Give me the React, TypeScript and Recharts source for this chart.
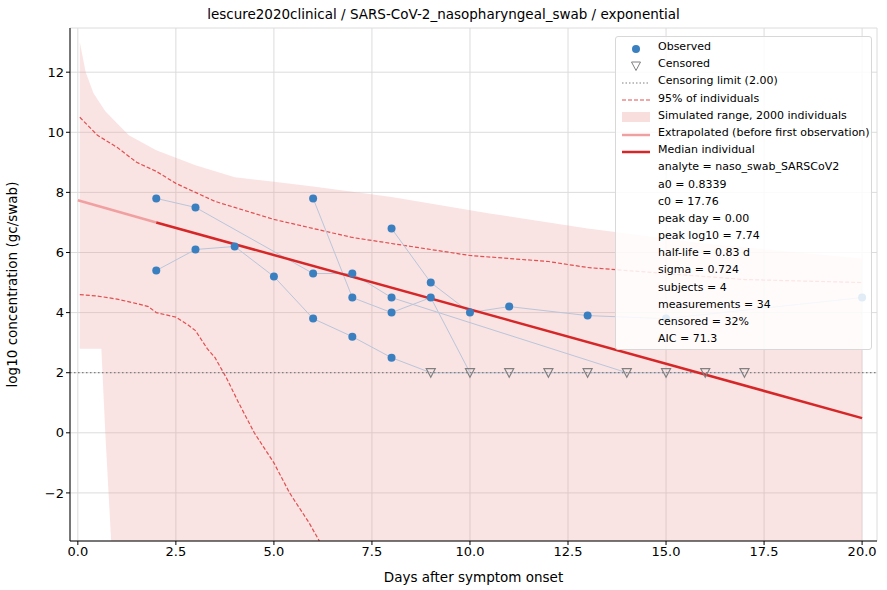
import React from "react";
import {
  ComposedChart, Area, Line, Scatter, XAxis, YAxis, CartesianGrid, ReferenceLine, Label,
} from "recharts";

// subject trajectories (day, log10 value); y=2 points are censored
const subjectA = [
  { x: 2, y: 7.8 }, { x: 3, y: 7.5 }, { x: 6, y: 5.3 }, { x: 7, y: 5.3 }, { x: 8, y: 4.5 }, { x: 14, y: 2 },
];
const subjectB = [
  { x: 2, y: 5.4 }, { x: 3, y: 6.1 }, { x: 4, y: 6.2 }, { x: 5, y: 5.2 }, { x: 6, y: 3.8 }, { x: 7, y: 3.2 },
  { x: 8, y: 2.5 }, { x: 9, y: 2 }, { x: 11, y: 2 }, { x: 12, y: 2 }, { x: 13, y: 2 }, { x: 15, y: 2 },
  { x: 16, y: 2 }, { x: 17, y: 2 },
];
const subjectC = [
  { x: 6, y: 7.8 }, { x: 7, y: 4.5 }, { x: 8, y: 4.0 }, { x: 9, y: 4.5 }, { x: 10, y: 2 },
];
const subjectD = [
  { x: 8, y: 6.8 }, { x: 9, y: 5.0 }, { x: 10, y: 4.0 }, { x: 11, y: 4.2 }, { x: 13, y: 3.9 },
  { x: 15, y: 3.8 }, { x: 20, y: 4.5 },
];
const observed = [
  { x: 2, y: 7.8 }, { x: 3, y: 7.5 }, { x: 2, y: 5.4 }, { x: 3, y: 6.1 }, { x: 4, y: 6.2 }, { x: 5, y: 5.2 },
  { x: 6, y: 7.8 }, { x: 6, y: 5.3 }, { x: 6, y: 3.8 }, { x: 7, y: 5.3 }, { x: 7, y: 4.5 }, { x: 7, y: 3.2 },
  { x: 8, y: 6.8 }, { x: 8, y: 4.5 }, { x: 8, y: 4.0 }, { x: 8, y: 2.5 }, { x: 9, y: 5.0 }, { x: 9, y: 4.5 },
  { x: 10, y: 4.0 }, { x: 11, y: 4.2 }, { x: 13, y: 3.9 }, { x: 15, y: 3.8 }, { x: 20, y: 4.5 },
];
const censored = [9, 10, 11, 12, 13, 14, 15, 16, 17].map((x) => ({ x, y: 2 }));

const bandDays = [0.05, 0.2, 0.4, 0.6, 0.7, 0.85, 1.3, 2, 3, 4, 5, 6, 8, 10.5, 13, 16, 20];
const bandLow = [2.8, 2.8, 2.8, 2.8, 0, -3.6, -3.6, -3.6, -3.6, -3.6, -3.6, -3.6, -3.6, -3.6, -3.6, -3.6, -3.6];
const bandHigh = [13, 12, 11.3, 10.9, 10.7, 10.5, 9.9, 9.4, 8.9, 8.5, 8.35, 8.2, 7.85, 7.3, 6.8, 6.3, 5.8];

const upperDays = [0.05, 0.5, 1, 1.5, 2, 2.5, 3, 3.5, 4, 4.5, 5, 5.5, 6, 6.5, 7, 7.5, 8, 8.5, 9, 9.5, 10, 11, 12, 13, 15, 17, 20];
const upperVals = [10.5, 9.9, 9.5, 9.0, 8.7, 8.3, 8.0, 7.7, 7.5, 7.3, 7.1, 6.95, 6.8, 6.65, 6.5, 6.4, 6.3, 6.2, 6.1, 6.0, 5.9, 5.8, 5.7, 5.5, 5.3, 5.1, 5.0];
const lowerDays = [0.05, 0.5, 1, 1.5, 1.8, 2, 2.5, 2.8, 3, 3.3, 3.5, 3.8, 4.1, 4.5, 5, 5.4, 5.9, 6.2];
const lowerVals = [4.6, 4.55, 4.45, 4.3, 4.2, 4.0, 3.85, 3.6, 3.4, 2.8, 2.5, 1.8, 1.0, 0, -1, -2, -3, -3.7];

const extrapolated = [{ x: 0, y: 7.74 }, { x: 2, y: 7.0 }];
const median = [{ x: 2, y: 7.0 }, { x: 20, y: 0.49 }];

const xTicks = [0, 2.5, 5, 7.5, 10, 12.5, 15, 17.5, 20];
const yTicks = [-2, 0, 2, 4, 6, 8, 10, 12];
const statLines = [
  "analyte = naso_swab_SARSCoV2", "a0 = 0.8339", "c0 = 17.76", "peak day = 0.00", "peak log10 = 7.74",
  "half-life = 0.83 d", "sigma = 0.724", "subjects = 4", "measurements = 34", "censored = 32%", "AIC = 71.3",
];

const band = bandDays.map((x, i) => ({ x, r: [bandLow[i], bandHigh[i]] }));
const upper = upperDays.map((x, i) => ({ x, y: upperVals[i] }));
const lower = lowerDays.map((x, i) => ({ x, y: lowerVals[i] }));

const font = "DejaVu Sans, sans-serif";
const tri = (p: any) => (
  <path d={`M${p.cx - 4.5},${p.cy - 4} L${p.cx + 4.5},${p.cy - 4} L${p.cx},${p.cy + 4.5} Z`} fill="none" stroke="#808080" strokeWidth={1.2} />
);

function Key({ kind }: { kind: string }) {
  const s: React.CSSProperties = { width: 28, height: 10, display: "inline-block", marginRight: 8, position: "relative" };
  let inner: React.ReactNode = null;
  if (kind === "obs") inner = <svg width="28" height="10"><circle cx="14" cy="5" r="4" fill="#3a7fbf" /></svg>;
  if (kind === "cens") inner = <svg width="28" height="10"><path d="M9.5,1 L18.5,1 L14,9.5 Z" fill="none" stroke="#808080" /></svg>;
  if (kind === "lim") inner = <svg width="28" height="10"><line x1="0" y1="5" x2="28" y2="5" stroke="#808080" strokeDasharray="1.5 2" strokeWidth={1.2} /></svg>;
  if (kind === "pi") inner = <svg width="28" height="10"><line x1="0" y1="5" x2="28" y2="5" stroke="#e05050" strokeDasharray="4 2" strokeWidth={1.2} /></svg>;
  if (kind === "sim") inner = <svg width="28" height="10"><rect x="0" y="0" width="28" height="10" fill="#f9dede" /></svg>;
  if (kind === "ext") inner = <svg width="28" height="10"><line x1="0" y1="5" x2="28" y2="5" stroke="#f0a0a0" strokeWidth={2.5} /></svg>;
  if (kind === "med") inner = <svg width="28" height="10"><line x1="0" y1="5" x2="28" y2="5" stroke="#d62728" strokeWidth={2.5} /></svg>;
  return <span style={s}>{inner}</span>;
}

export default function App() {
  const keys: [string, string][] = [
    ["obs", "Observed"], ["cens", "Censored"], ["lim", "Censoring limit (2.00)"], ["pi", "95% of individuals"],
    ["sim", "Simulated range, 2000 individuals"], ["ext", "Extrapolated (before first observation)"], ["med", "Median individual"],
  ];
  const tick = { fontSize: 13, fill: "#000", fontFamily: font };
  return (
    <div style={{ position: "fixed", left: 0, top: 0, width: 887, height: 590, background: "#fff", fontFamily: font }}>
      <div style={{ position: "absolute", top: 6, width: 887, textAlign: "center", fontSize: 13.5 }}>
        lescure2020clinical / SARS-CoV-2_nasopharyngeal_swab / exponential
      </div>
      <ComposedChart width={887} height={590} margin={{ top: 28, right: 10, bottom: 0, left: 0 }}>
        <CartesianGrid stroke="#dcdcdc" />
        <XAxis type="number" dataKey="x" domain={[-0.2, 20.38]} ticks={xTicks} allowDataOverflow
          tickFormatter={(v) => v.toFixed(1)} tick={tick} height={49} stroke="#000" tickSize={4}>
          <Label value="Days after symptom onset" position="insideBottom" offset={8} style={{ fontSize: 13.5, fill: "#000", fontFamily: font }} />
        </XAxis>
        <XAxis xAxisId="top" orientation="top" type="number" domain={[-0.2, 20.38]} tick={false} height={0} stroke="#000" />
        <YAxis type="number" domain={[-3.6, 13.47]} ticks={yTicks} allowDataOverflow width={70}
          tickFormatter={(v) => (v < 0 ? "\u2212" + Math.abs(v) : String(v))} tick={tick} stroke="#000" tickSize={4}>
          <Label value="log10 concentration (gc/swab)" angle={-90} position="insideLeft" offset={12} style={{ fontSize: 13.5, fill: "#000", fontFamily: font, textAnchor: "middle" }} />
        </YAxis>
        <YAxis yAxisId="right" orientation="right" type="number" domain={[-3.6, 13.47]} tick={false} width={0} stroke="#000" />
        <Area data={band} dataKey="r" type="linear" fill="#ee9a9a" fillOpacity={0.28} stroke="none" isAnimationActive={false} />
        <Line data={upper} dataKey="y" type="linear" stroke="#e05050" strokeDasharray="4 2" strokeWidth={1.2} dot={false} isAnimationActive={false} />
        <Line data={lower} dataKey="y" type="linear" stroke="#e05050" strokeDasharray="4 2" strokeWidth={1.2} dot={false} isAnimationActive={false} />
        {[subjectA, subjectB, subjectC, subjectD].map((d, i) => (
          <Line key={i} data={d} dataKey="y" type="linear" stroke="#b8c6da" strokeWidth={1} dot={false} isAnimationActive={false} />
        ))}
        <ReferenceLine y={2} stroke="#808080" strokeDasharray="1.5 2.5" strokeWidth={1.3} />
        <Line data={extrapolated} dataKey="y" type="linear" stroke="#f0a0a0" strokeWidth={2.5} dot={false} isAnimationActive={false} />
        <Line data={median} dataKey="y" type="linear" stroke="#d62728" strokeWidth={2.5} dot={false} isAnimationActive={false} />
        <Scatter data={observed} dataKey="y" fill="#3a7fbf" shape={(p: any) => <circle cx={p.cx} cy={p.cy} r={4} fill="#3a7fbf" />} isAnimationActive={false} />
        <Scatter data={censored} dataKey="y" shape={tri} isAnimationActive={false} />
      </ComposedChart>
      <div style={{ position: "absolute", left: 615, top: 36, width: 255, height: 311, background: "rgba(255,255,255,0.85)",
        border: "1px solid #d8d8d8", borderRadius: 3, fontSize: 11, lineHeight: "17.2px", paddingTop: 1 }}>
        {keys.map(([k, t]) => (
          <div key={k} style={{ display: "flex", alignItems: "center", paddingLeft: 6, height: 17.2 }}><Key kind={k} />{t}</div>
        ))}
        {statLines.map((t) => (
          <div key={t} style={{ paddingLeft: 42, height: 17.2 }}>{t}</div>
        ))}
      </div>
    </div>
  );
}
